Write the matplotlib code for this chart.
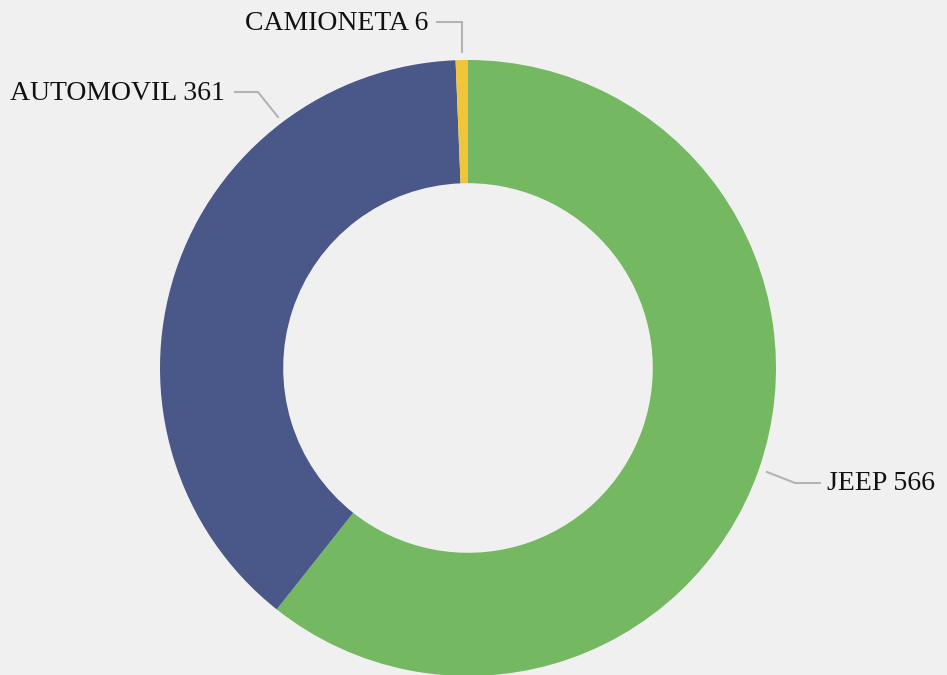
import matplotlib
matplotlib.use("Agg")
import matplotlib.pyplot as plt

categories = ["JEEP", "AUTOMOVIL", "CAMIONETA"]
values = [566, 361, 6]
colors = ["#75b862", "#4a5889", "#f0c53a"]

W, H = 947, 675
fig = plt.figure(figsize=(W / 100, H / 100), dpi=100, facecolor="#f0f0f0")
ax = fig.add_axes([0, 0, 1, 1])
ax.set_facecolor("#f0f0f0")

cx, cy, r = 468, H - 368, 308
ax.pie(values, colors=colors, startangle=90, counterclock=False,
       center=(cx, cy), radius=r, frame=True,
       wedgeprops=dict(width=r * 0.4, linewidth=0))
ax.set_xlim(0, W)
ax.set_ylim(0, H)
ax.set_aspect("equal")
ax.axis("off")

font = dict(family="Liberation Serif", fontsize=20, color="#111111")
lc = "#b3b3b3"

def yy(p):
    return H - p

labels = [
    (f"{categories[0]} {values[0]}", (827, 484), "left",
     [(767, 472), (795, 483), (820, 483)]),
    (f"{categories[1]} {values[1]}", (225, 94), "right",
     [(278, 117), (258, 92), (235, 92)]),
    (f"{categories[2]} {values[2]}", (428, 23), "right",
     [(462, 52), (462, 22), (437, 22)]),
]
for text, (tx, ty), ha, pts in labels:
    ax.plot([p[0] for p in pts], [yy(p[1]) for p in pts], color=lc, lw=1.5,
            solid_joinstyle="miter")
    ax.text(tx, yy(ty), text, ha=ha, va="center", **font)

fig.savefig("out.png", dpi=100, facecolor="#f0f0f0")
